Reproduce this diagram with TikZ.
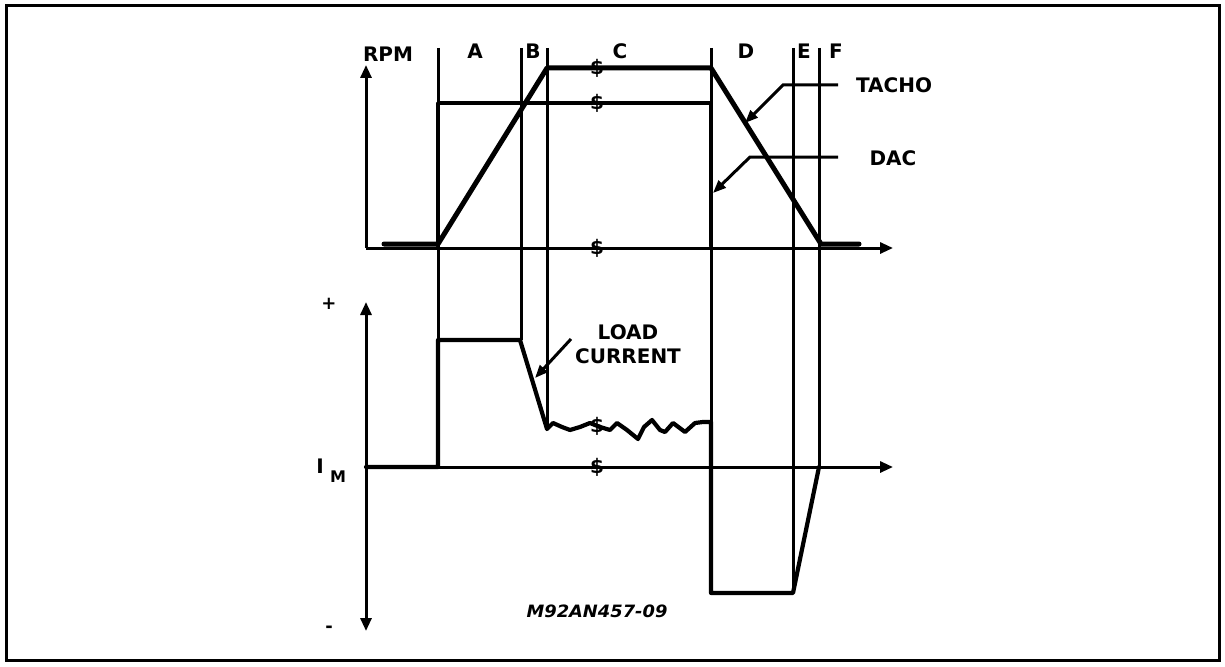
\documentclass[tikz,border=0pt]{standalone}
\usepackage{fontspec}
\setmainfont{DejaVu Sans}
\usetikzlibrary{arrows.meta}
\begin{document}
\begin{tikzpicture}[x=1pt,y=-1pt,
  lbl/.style={font=\bfseries\fontsize{20}{20}\selectfont, inner sep=0pt},
  brk/.style={font=\bfseries\fontsize{20}{20}\selectfont, inner sep=0pt},
  axisline/.style={line width=3pt, -{Triangle[length=13pt,width=11pt]}},
  bound/.style={line width=3pt},
  trace/.style={line width=4.2pt, line join=round, line cap=round},
  lead/.style={line width=3pt, -{Triangle[length=13pt,width=10pt]}}]
\useasboundingbox (0,0) rectangle (1225,666);
% frame
\draw[line width=3pt] (6,6) rectangle (1219,660);

% named points
\coordinate (o1) at (366,248);
\coordinate (y1) at (366,65);
\coordinate (x1) at (893,248);
\coordinate (o2) at (366,467);
\coordinate (y2top) at (366,302);
\coordinate (y2bot) at (366,631);
\coordinate (x2) at (893,467);

% axes
\draw[axisline] (o1) -- (y1);
\draw[axisline] (o1) -- (x1);
\draw[axisline] (o2) -- (y2top);
\draw[axisline] (o2) -- (y2bot);
\draw[axisline] (o2) -- (x2);

% region boundaries
\draw[bound] (438,48) -- (438,467);
\draw[bound] (521,48) -- (521,340);
\draw[bound] (547,48) -- (547,428);
\draw[bound] (711,48) -- (711,593);
\draw[bound] (793,48) -- (793,593);
\draw[bound] (819,48) -- (819,467);

% tacho
\draw[trace, line width=5pt] (384,244) -- (438,244) -- (547,68) -- (711,68) -- (821,244) -- (859,244);
% dac
\draw[trace, line width=3.6pt] (438,246) -- (438,103) -- (711,103) -- (711,246);
% load current
\draw[trace] (366,467) -- (438,467) -- (438,340) -- (520,340) -- (547,429)
  -- (553,423) -- (562,427) -- (570,430) -- (580,427) -- (590,423) -- (600,427)
  -- (610,430) -- (617,423) -- (627,430) -- (638,439) -- (644,427) -- (652,420)
  -- (660,430) -- (665,432) -- (673,423) -- (685,432) -- (695,423) -- (703,422)
  -- (711,422) -- (711,593) -- (793,593) -- (819,467);

% break marks
\foreach \n/\yy in {b1/68, b2/103, b3/248, b4/426, b5/467}
  \node[brk] (\n) at (597,\yy) {\$};

% region labels
\node[lbl] (A) at (475,51) {A};
\node[lbl] (B) at (533,51) {B};
\node[lbl] (C) at (620,51) {C};
\node[lbl] (D) at (746,51) {D};
\node[lbl] (E) at (804,51) {E};
\node[lbl] (F) at (836,51) {F};

% axis labels
\node[lbl] (rpm) at (388,54) {RPM};
\node[lbl, font=\bfseries\fontsize{18}{18}\selectfont] (plus) at (329,304) {+};
\node[lbl, font=\bfseries\fontsize{18}{18}\selectfont] (minus) at (329,629) {-};
\node[lbl] (im) at (320,466) {I};
\node[lbl, font=\bfseries\fontsize{16}{16}\selectfont] (imsub) at (338,477) {M};

% callouts
\node[lbl] (tacho) at (894,85) {TACHO};
\node[lbl] (dac) at (893,158) {DAC};
\node[lbl, align=center] (load) at (628,344) {LOAD\\[4pt]CURRENT};

\coordinate (t1) at (838,85);
\coordinate (t2) at (783,85);
\coordinate (t3) at (745,123);
\draw[lead] (t1) -- (t2) -- (t3);
\coordinate (d1) at (838,157);
\coordinate (d2) at (750,157);
\coordinate (d3) at (713,193);
\draw[lead] (d1) -- (d2) -- (d3);
\coordinate (l1) at (571,339);
\coordinate (l2) at (535,378);
\draw[lead] (l1) -- (l2);

% figure code
\node[inner sep=0pt, xscale=1.05, font=\bfseries\itshape\fontsize{17}{17}\selectfont] (code) at (597,611) {M92AN457-09};
\end{tikzpicture}
\end{document}
